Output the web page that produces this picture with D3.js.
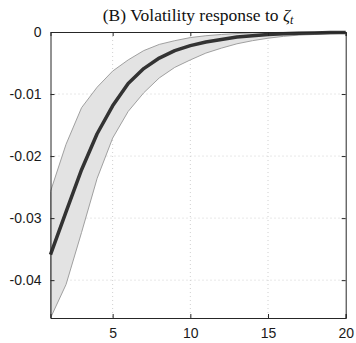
<!DOCTYPE html>
<html><head><meta charset="utf-8">
<script src="https://cdn.jsdelivr.net/npm/d3@7"></script>
<style>body{margin:0;background:#fff}svg{display:block}</style>
</head><body>
<script>
const periods = d3.range(1, 21);
const meanResp = [-0.0359,-0.0290,-0.0222,-0.0164,-0.0119,-0.0083,-0.0059,-0.0042,-0.0030,-0.0022,-0.0016,-0.0012,-0.0008,-0.0006,-0.0004,-0.0003,-0.0002,-0.00015,-0.0001,-0.00007];
const upperBand = [-0.0257,-0.0181,-0.0122,-0.0089,-0.0063,-0.0045,-0.0030,-0.0020,-0.0014,-0.0009,-0.0006,-0.0004,-0.00025,-0.00015,-0.0001,-0.00006,-0.00004,-0.00003,-0.00002,-0.00001];
const lowerBand = [-0.0461,-0.0407,-0.0323,-0.0236,-0.0171,-0.0128,-0.0098,-0.0074,-0.0057,-0.0045,-0.0034,-0.0026,-0.0019,-0.0014,-0.0010,-0.0007,-0.0005,-0.0004,-0.0003,-0.0002];
const xTicks = [5, 10, 15, 20];
const yTicks = [0, -0.01, -0.02, -0.03, -0.04];
const yTickLabels = ["0", "-0.01", "-0.02", "-0.03", "-0.04"];

const W = 356, H = 343;
const m = {left: 50.5, right: 10.3, top: 32, bottom: 25};
const svg = d3.select("body").append("svg").attr("width", W).attr("height", H);
const x = d3.scaleLinear().domain([1, 20]).range([m.left, W - m.right]);
const y = d3.scaleLinear().domain([-0.0461, 0]).range([H - m.bottom, m.top]);

// grid
const g = svg.append("g");
g.selectAll(".gx").data(xTicks.filter(d => d < 20)).join("line")
  .attr("x1", d => x(d)).attr("x2", d => x(d)).attr("y1", m.top).attr("y2", H - m.bottom)
  .attr("stroke", "#d0d0d0").attr("stroke-width", 1).attr("stroke-dasharray", "1,3");
g.selectAll(".gy").data(yTicks.filter(d => d < 0)).join("line")
  .attr("y1", d => y(d)).attr("y2", d => y(d)).attr("x1", m.left).attr("x2", W - m.right)
  .attr("stroke", "#d0d0d0").attr("stroke-width", 1).attr("stroke-dasharray", "1,3");

const data = periods.map((p, i) => ({p, m: meanResp[i], u: upperBand[i], l: lowerBand[i]}));
svg.append("path").datum(data)
  .attr("d", d3.area().x(d => x(d.p)).y0(d => y(d.l)).y1(d => y(d.u)))
  .attr("fill", "#e3e3e3").attr("stroke", "#a0a0a0").attr("stroke-width", 1);
svg.append("path").datum(data)
  .attr("d", d3.line().x(d => x(d.p)).y(d => y(d.m)))
  .attr("fill", "none").attr("stroke", "#333333").attr("stroke-width", 3.5)
  .attr("stroke-linejoin", "round");

// axes
const axCol = "#262626";
const fontAx = "Liberation Sans, Arial, Helvetica, sans-serif";
const xb = svg.append("g").attr("transform", `translate(0,${H - m.bottom})`)
  .call(d3.axisBottom(x).tickValues(xTicks).tickSize(-4).tickPadding(10).tickFormat(d3.format("d")));
const xt = svg.append("g").attr("transform", `translate(0,${m.top})`)
  .call(d3.axisTop(x).tickValues(xTicks).tickSize(-4).tickFormat(""));
const yl = svg.append("g").attr("transform", `translate(${m.left},0)`)
  .call(d3.axisLeft(y).tickValues(yTicks).tickSize(-4).tickPadding(9).tickFormat((d, i) => yTickLabels[i]));
const yr = svg.append("g").attr("transform", `translate(${W - m.right},0)`)
  .call(d3.axisRight(y).tickValues(yTicks).tickSize(-4).tickFormat(""));
[xb, xt, yl, yr].forEach(a => {
  a.select(".domain").attr("stroke", axCol).attr("stroke-width", 1);
  a.selectAll(".tick line").attr("stroke", axCol);
  a.selectAll("text").attr("fill", "#1a1a1a").attr("font-family", fontAx).attr("font-size", 14);
});

// title
const t = svg.append("text").attr("x", x(10.5)).attr("y", 21).attr("text-anchor", "middle")
  .attr("font-family", "Liberation Serif, DejaVu Serif, serif").attr("font-size", 17.5).attr("fill", "#111");
t.append("tspan").text("(B) Volatility response to ");
t.append("tspan").attr("font-style", "italic").text("ζ");
t.append("tspan").attr("font-style", "italic").attr("font-size", 12).attr("dy", 3).text("t");
</script>
</body></html>
